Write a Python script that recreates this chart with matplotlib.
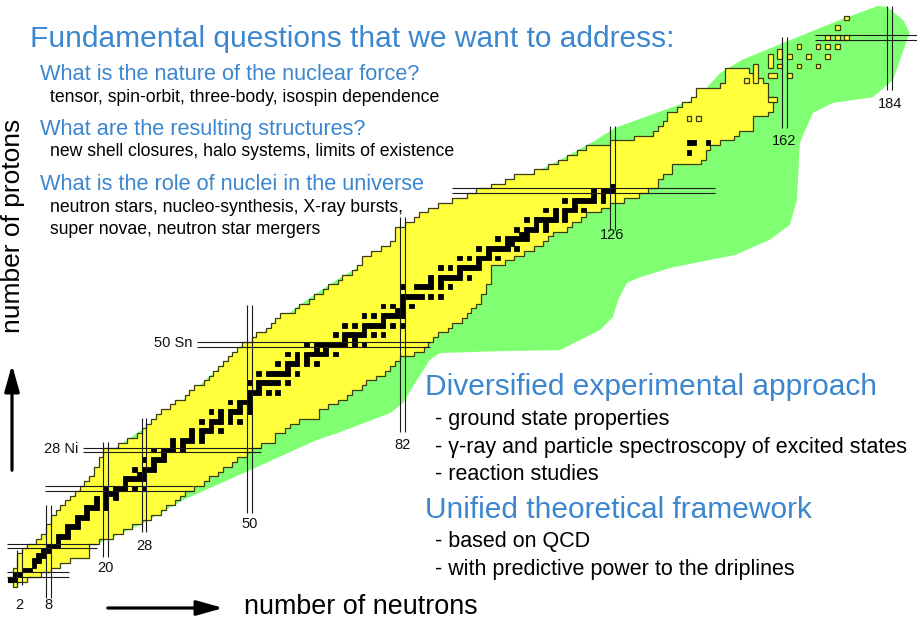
import matplotlib
matplotlib.use("Agg")
import matplotlib.pyplot as plt
import numpy as np
from matplotlib.patches import Polygon, FancyArrowPatch

W_PX, H_PX = 917, 619
# pixel position of N=0 / Z=0 and the size of one cell
N0_PX, N_STEP = 10.2, 4.78
Z0_PX, Z_STEP = 584.4, 4.80

YELLOW = "#ffff3c"
GREEN = "#80ff73"
EDGE = "#3c3c10"
BLUE = "#3b86cf"
FONT = "Liberation Sans"

# known nuclei: lowest / highest neutron number for Z = 0, 1, 2, ...
known_n_lo = [1, 0, 1, 1, 2, 2, 2, 3, 4, 6,
              7, 8, 8, 9, 9, 10, 11, 12, 13, 14,
              15, 16, 17, 18, 18, 19, 19, 20, 20, 23,
              25, 27, 28, 29, 30, 31, 32, 34, 35, 37,
              38, 39, 41, 42, 43, 44, 45, 46, 47, 48,
              49, 51, 52, 54, 55, 56, 57, 60, 61, 63,
              64, 66, 67, 69, 70, 72, 73, 74, 74, 76,
              78, 80, 81, 81, 81, 83, 85, 86, 88, 90,
              93, 96, 98, 101, 104, 106, 110, 113, 115, 117,
              119, 121, 126, 131, 135, 136, 137, 138, 138, 140,
              141, 143, 144, 144, 149, 150, 150, 150]
known_n_hi = [1, 3, 6, 8, 10, 12, 16, 16, 16, 18,
              21, 23, 25, 27, 29, 31, 32, 34, 35, 36,
              38, 40, 41, 43, 44, 46, 47, 49, 50, 52,
              55, 55, 57, 58, 60, 64, 64, 66, 68, 70,
              71, 73, 74, 76, 78, 79, 80, 81, 84, 86,
              87, 88, 89, 91, 92, 94, 95, 96, 97, 98,
              98, 99, 99, 100, 100, 100, 100, 103, 105, 107,
              109, 111, 112, 113, 116, 117, 119, 120, 123, 125,
              128, 131, 133, 135, 135, 136, 138, 138, 144, 145,
              145, 146, 148, 151, 152, 155, 155, 155, 158, 159,
              159, 159, 158, 158, 158, 157, 155, 154]

# stable and long-lived nuclei: neutron numbers for each Z
stable_n = [[], [0, 1], [1, 2], [3, 4], [5], [5, 6], [6, 7], [7, 8], [8, 9, 10], [10],
            [10, 11, 12], [12], [12, 13, 14], [14], [14, 15, 16], [16], [16, 17, 18, 20], [18, 20],
            [18, 20, 22], [20, 21, 22], [20, 22, 23, 24, 26, 28], [24], [24, 25, 26, 27, 28],
            [27, 28], [26, 28, 29, 30], [30], [28, 30, 31, 32], [32], [30, 32, 33, 34, 36],
            [34, 36], [34, 36, 37, 38, 40], [38, 40], [38, 40, 41, 42, 44], [42],
            [40, 42, 43, 44, 46, 48], [44, 46], [42, 44, 46, 47, 48, 50], [48, 50],
            [46, 48, 49, 50], [50], [50, 51, 52, 54, 56], [52], [50, 52, 53, 54, 55, 56, 58],
            [], [52, 54, 55, 56, 57, 58, 60], [58], [56, 58, 59, 60, 62, 64], [60, 62],
            [58, 60, 62, 63, 64, 65, 66, 68], [64, 66], [62, 64, 65, 66, 67, 68, 69, 70, 72, 74],
            [70, 72], [68, 70, 71, 72, 73, 74, 76, 78], [74], [70, 72, 74, 75, 76, 77, 78, 80, 82],
            [78], [74, 76, 78, 79, 80, 81, 82], [81, 82], [78, 80, 82, 84], [82],
            [82, 83, 84, 85, 86, 88, 90], [], [82, 85, 86, 87, 88, 90, 92], [88, 90],
            [88, 90, 91, 92, 93, 94, 96], [94], [90, 92, 94, 95, 96, 97, 98], [98],
            [94, 96, 98, 99, 100, 102], [100], [98, 100, 101, 102, 103, 104, 106], [104, 105],
            [102, 104, 105, 106, 107, 108], [107, 108], [106, 108, 109, 110, 112], [110, 112],
            [108, 110, 111, 112, 113, 114, 116], [114, 116], [112, 114, 116, 117, 118, 120],
            [118], [116, 118, 119, 120, 121, 122, 124], [122, 124], [122, 124, 125, 126], [126],
            [], [], [], [], [], [], [142], [], [142, 143, 146]]

# isolated superheavy cells: first N, first Z, width and height in cells
iso_n = [142, 144, 154, 159, 156, 159, 161, 159, 163, 161, 165, 169, 163, 167, 171,
         165, 169, 171, 173, 171, 173, 175, 173, 175]
iso_z = [97, 97, 105, 101, 105, 108, 110, 106, 106, 108, 108, 108, 110, 110, 110,
         112, 112, 112, 112, 114, 114, 114, 116, 118]
iso_w = [1, 1, 1, 2, 1, 1, 1, 2, 1, 1, 1, 1, 1, 1, 1, 1, 1, 1, 1, 1, 1, 1, 1, 1]
iso_h = [1, 1, 1, 1, 4, 3, 2, 1, 1, 1, 1, 1, 1, 1, 1, 1, 1, 1, 1, 1, 1, 1, 1, 1]

# outline of the predicted (green) region
pred_n = [17.7, 27.2, 36.2, 50.2, 64.2, 68.4, 79.5, 82.2, 85.1, 87.8, 89.9, 102.5,
          115.0, 119.2, 123.4, 126.1, 127.2, 129.0, 131.8, 138.0, 144.3, 151.6, 158.9,
          163.1, 164.6, 165.2, 167.9, 172.1, 180.5, 184.7, 187.6, 188.2, 186.8, 183.4,
          181.5, 173.6, 161.7, 153.1, 148.5, 143.7, 126.5, 121.9, 115.0, 106.7, 98.3,
          87.8, 80.1, 75.3, 69.0, 62.1, 48.1, 43.3, 35.5, 20.9, 16.7, 12.5, 10.4]
pred_z = [8.2, 12.4, 17.6, 23.8, 30.1, 31.5, 35.7, 37.8, 42.6, 46.8, 48.2, 48.6,
          48.8, 50.9, 53.0, 55.7, 59.3, 62.8, 64.0, 65.9, 67.2, 68.6, 71.8,
          74.9, 80.1, 92.0, 98.2, 100.3, 101.5, 105.1, 113.4, 114.9, 117.6, 120.3,
          120.5, 117.6, 112.8, 109.3, 106.5, 101.3, 95.1, 92.2, 88.4, 84.3, 80.1,
          74.9, 70.7, 67.5, 63.9, 59.3, 48.8, 44.7, 37.8, 27.6, 21.8, 17.6, 14.5]

# magic numbers: neutron lines (vertical) and proton lines (horizontal)
magic_n = [2, 8, 20, 28, 50, 82, 126, 162, 184]
magic_n_zlo = [-0.1, -2.8, 5.8, 11.0, 14.9, 31.8, 73.8, 95.1, 102.9]
magic_n_zhi = [7.2, 16.5, 29.7, 34.6, 58.2, 76.6, 95.4, 114.1, 120.4]
magic_n_label_z = [-4.3, -4.3, 3.5, 8.0, 12.6, 29.0, 72.8, 92.4, 100.1]
magic_z = [2, 8, 20, 28, 50, 82, 114]
magic_z_nlo = [-0.7, -0.6, 7.3, 15.3, 39.1, 92.4, 168.4]
magic_z_nhi = [12.2, 18.1, 38.3, 52.4, 87.8, 147.5, 191.0]
element_labels = ["28 Ni", "50 Sn"]
element_label_z = [28, 50]

questions = [
    ("What is the nature of the nuclear force?", ["tensor, spin-orbit, three-body, isospin dependence"]),
    ("What are the resulting structures?", ["new shell closures, halo systems, limits of existence"]),
    ("What is the role of nuclei in the universe", ["neutron stars, nucleo-synthesis, X-ray bursts,",
                                                    "super novae, neutron star mergers"]),
]
approach = [
    ("Diversified experimental approach", ["- ground state properties",
                                           "- \u03b3-ray and particle spectroscopy of excited states",
                                           "- reaction studies"]),
    ("Unified theoretical framework", ["- based on QCD",
                                       "- with predictive power to the driplines"]),
]

plt.rcParams["font.family"] = [FONT, "DejaVu Sans"]

fig = plt.figure(figsize=(W_PX / 100, H_PX / 100), dpi=100)
fig.patch.set_facecolor("white")
ax = fig.add_axes([0, 0, 1, 1])
ax.set_xlim(-N0_PX / N_STEP, (W_PX - N0_PX) / N_STEP)
ax.set_ylim((Z0_PX - H_PX) / Z_STEP, Z0_PX / Z_STEP)
ax.axis("off")


def px(x, y):
    return x / W_PX, 1 - y / H_PX


# predicted region
ax.add_patch(Polygon(np.column_stack([pred_n, pred_z]), closed=True,
                     facecolor=GREEN, edgecolor="none", zorder=1))

# known nuclei as a staircase outline
z = np.arange(len(known_n_lo))
rows = np.column_stack([z - 0.5, z + 0.5]).ravel()
right = np.column_stack([np.repeat(np.array(known_n_hi) + 0.5, 2), rows])
left = np.column_stack([np.repeat(np.array(known_n_lo) - 0.5, 2), rows])[::-1]
ax.add_patch(Polygon(np.vstack([right, left]), closed=True, facecolor=YELLOW,
                     edgecolor=EDGE, linewidth=0.9, joinstyle="miter", zorder=2))

ax.bar(np.array(iso_n) - 0.5, iso_h, width=iso_w, bottom=np.array(iso_z) - 0.5,
       align="edge", color=YELLOW, edgecolor=EDGE, linewidth=0.9, zorder=2.5)

sn = [n for zz in range(len(stable_n)) for n in stable_n[zz]]
sz = [zz for zz in range(len(stable_n)) for n in stable_n[zz]]
ax.bar(sn, 1.0, width=1.0, bottom=np.array(sz) - 0.5, color="black",
       edgecolor="black", linewidth=0.6, zorder=3)

# magic number lines
for n, lo, hi, lz in zip(magic_n, magic_n_zlo, magic_n_zhi, magic_n_label_z):
    ax.vlines([n - 0.5, n + 0.5], lo, hi, colors="#1a1a1a", linewidth=0.8, zorder=4)
    ax.text(n, lz, str(n), ha="center", va="center", fontsize=10.5, color="#111111")
for zz, lo, hi in zip(magic_z, magic_z_nlo, magic_z_nhi):
    ax.hlines([zz - 0.5, zz + 0.5], lo, hi, colors="#1a1a1a", linewidth=0.8, zorder=4)
for label, zz in zip(element_labels, element_label_z):
    lo = magic_z_nlo[magic_z.index(zz)]
    ax.text(lo - 1.0, zz + 0.3, label, ha="right", va="center", fontsize=10.5,
            color="#111111")

# text blocks
fig.text(*px(30, 47), "Fundamental questions that we want to address:",
         fontsize=21.5, color=BLUE, va="baseline")
y = 80
for head, lines in questions:
    fig.text(*px(40, y), head, fontsize=15.7, color=BLUE, va="baseline")
    y += 21.5
    for line in lines:
        fig.text(*px(50, y), line, fontsize=12.7, color="black", va="baseline")
        y += 22
    y += 11.5

y = 395
for head, lines in approach:
    fig.text(*px(425, y), head, fontsize=21.5, color=BLUE, va="baseline")
    y += 30
    for line in lines:
        fig.text(*px(435, y), line, fontsize=15.5, color="black", va="baseline")
        y += 27.5
    y += 10

fig.text(*px(244, 614), "number of neutrons", fontsize=19.4, color="black",
         va="baseline")
fig.text(*px(13, 226), "number of protons", fontsize=19.0, color="black",
         rotation=90, ha="center", va="center")

for a, b in [((105, 608), (226, 608)), ((12, 473), (12, 362))]:
    fig.add_artist(FancyArrowPatch(px(*a), px(*b), transform=fig.transFigure,
                                   arrowstyle="-|>,head_length=16,head_width=4.5",
                                   mutation_scale=1, linewidth=2.3, color="black"))

fig.savefig("out.png", dpi=100, facecolor="white")
